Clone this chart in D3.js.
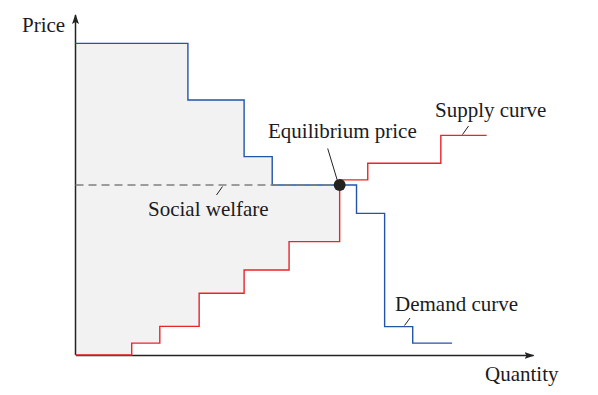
<!DOCTYPE html>
<html>
<head>
<meta charset="utf-8">
<script src="https://cdn.jsdelivr.net/npm/d3@7"></script>
<style>
  body { margin: 0; background: #fff; }
  text { font-family: "Liberation Serif", "DejaVu Serif", serif; font-size: 21px; fill: #1b1b22; }
</style>
</head>
<body>
<div id="chart"></div>
<script>
// demand curve breakpoints (quantity, price), stepped
const demandQ = [0, 4, 6, 7, 10, 11, 12, 13.4];
const demandP = [11, 9, 7, 6, 5, 1, 0.42, 0.42];
// supply curve breakpoints
const supplyQ = [0, 2, 3, 4.4, 6, 7.6, 9.4, 10.4, 13, 14.63];
const supplyP = [0, 0.42, 1.01, 2.18, 3, 4, 6.18, 6.77, 7.75, 7.75];
// equilibrium
const eqQ = 9.4;
const eqP = 6;
// welfare area breakpoints
const welfareQ = [0, 2, 3, 4, 4.4, 6, 7, 7.6, 9.4];

const W = 598, H = 395;
const svg = d3.select("#chart").append("svg")
    .attr("width", W).attr("height", H);

const x = d3.scaleLinear().domain([0, 16.28]).range([75.5, 533]);
const y = d3.scaleLinear().domain([0, 12]).range([355, 15]);

// step lookup
function stepVal(qs, ps, q) {
    let v = ps[0];
    for (let i = 0; i < qs.length; i++) {
        if (qs[i] <= q) v = ps[i];
    }
    return v;
}

const defs = svg.append("defs");
defs.append("marker")
    .attr("id", "arrow")
    .attr("viewBox", "0 0 10 10")
    .attr("refX", 9).attr("refY", 5)
    .attr("markerWidth", 10).attr("markerHeight", 10)
    .attr("markerUnits", "userSpaceOnUse")
    .attr("orient", "auto")
    .append("path")
    .attr("d", "M0,1.5L10,5L0,8.5L2,5Z")
    .attr("fill", "#222");

// shaded social welfare
const area = d3.area()
    .x(d => x(d))
    .y0(d => y(stepVal(supplyQ, supplyP, d)))
    .y1(d => y(stepVal(demandQ, demandP, d)))
    .curve(d3.curveStepAfter);
svg.append("path")
    .datum(welfareQ)
    .attr("d", area)
    .attr("fill", "#f2f2f2");

// axes (no ticks)
const xAxis = svg.append("g")
    .attr("transform", `translate(0,${y(0)})`)
    .call(d3.axisBottom(x).tickValues([]).tickSizeOuter(0));
xAxis.select(".domain").attr("stroke", "#222").attr("stroke-width", 1.5)
    .attr("marker-end", "url(#arrow)");

const yAxis = svg.append("g")
    .attr("transform", `translate(${x(0)},0)`)
    .call(d3.axisLeft(y).tickValues([]).tickSizeOuter(0));
yAxis.select(".domain").attr("stroke", "#222").attr("stroke-width", 1.5)
    .attr("d", `M0,${y(0)}V${y(12)}`)
    .attr("marker-end", "url(#arrow)");

const line = d3.line()
    .x(d => x(d[0]))
    .y(d => y(d[1]))
    .curve(d3.curveStepAfter);

// demand
svg.append("path")
    .datum(demandQ.map((q, i) => [q, demandP[i]]))
    .attr("d", line)
    .attr("fill", "none")
    .attr("stroke", "#2354a8")
    .attr("stroke-width", 1.4);

// supply
svg.append("path")
    .datum(supplyQ.map((q, i) => [q, supplyP[i]]))
    .attr("d", line)
    .attr("fill", "none")
    .attr("stroke", "#ec2329")
    .attr("stroke-width", 1.4);

// dashed equilibrium price line
svg.append("line")
    .attr("x1", x(0)).attr("x2", x(eqQ))
    .attr("y1", y(eqP)).attr("y2", y(eqP))
    .attr("stroke", "#808080")
    .attr("stroke-width", 1.3)
    .attr("stroke-dasharray", "8,5");

// equilibrium dot
svg.append("circle")
    .attr("cx", x(eqQ)).attr("cy", y(eqP))
    .attr("r", 6)
    .attr("fill", "#222");

// labels with leader lines
const labels = [
    { text: "Price", tx: 22, ty: 32 },
    { text: "Quantity", tx: 485, ty: 381 },
    { text: "Equilibrium price", tx: 268, ty: 138, l: [327.7, 148.5, 337.5, 181] },
    { text: "Supply curve", tx: 435, ty: 117, l: [468.5, 126, 462.5, 134.5] },
    { text: "Social welfare", tx: 148, ty: 216, l: [216.5, 195, 222.5, 186.5] },
    { text: "Demand curve", tx: 395, ty: 311, l: [410, 318, 404.5, 325.5] }
];
labels.forEach(d => {
    svg.append("text").attr("x", d.tx).attr("y", d.ty).text(d.text);
    if (d.l) {
        svg.append("line")
            .attr("x1", d.l[0]).attr("y1", d.l[1])
            .attr("x2", d.l[2]).attr("y2", d.l[3])
            .attr("stroke", "#222").attr("stroke-width", 1);
    }
});
</script>
</body>
</html>
